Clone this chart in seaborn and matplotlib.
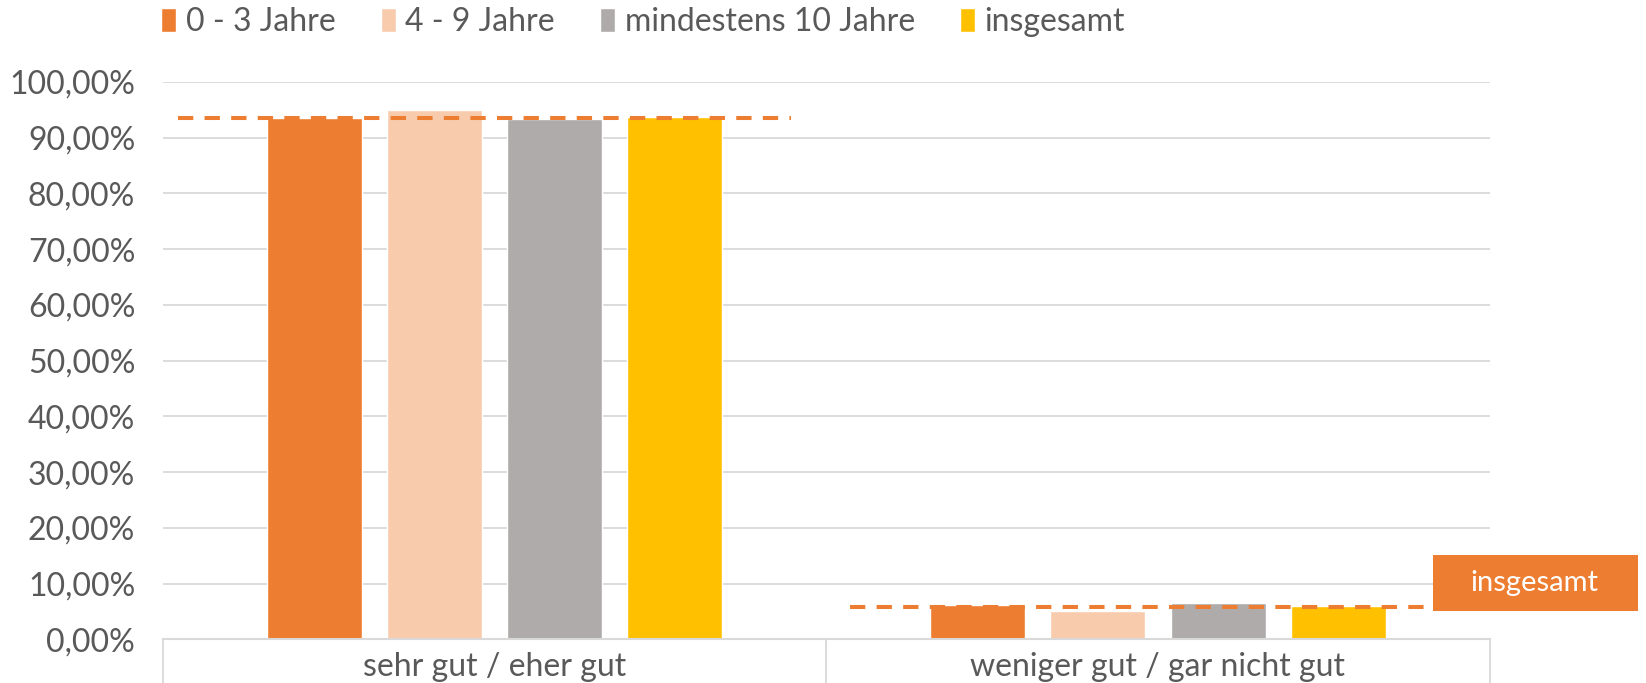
import numpy as np
import pandas as pd
import matplotlib
matplotlib.use("Agg")
import matplotlib.pyplot as plt
import seaborn as sns
from matplotlib.patches import Rectangle
from matplotlib.ticker import FuncFormatter

# Daten
kategorien = ["sehr gut / eher gut", "weniger gut / gar nicht gut"]
gruppen = ["0 - 3 Jahre", "4 - 9 Jahre", "mindestens 10 Jahre", "insgesamt"]
werte_0_3 = [93.6, 6.2]
werte_4_9 = [94.9, 5.0]
werte_10 = [93.3, 6.6]
werte_gesamt = [93.8, 6.0]
referenz_linie = [93.6, 5.8]

farben = ["#ED7D31", "#F8CBAD", "#AFABAB", "#FFC000"]
textfarbe = "#595959"
gitter = "#D9D9D9"

df = pd.DataFrame({
    "kategorie": kategorien * 4,
    "gruppe": np.repeat(gruppen, len(kategorien)),
    "wert": werte_0_3 + werte_4_9 + werte_10 + werte_gesamt,
})

sns.set_style("white")
plt.rcParams["font.family"] = ["Lato", "DejaVu Sans"]

fig = plt.figure(figsize=(16.46, 6.83), dpi=100)
ax = fig.add_axes([0.099, 0.064, 0.806, 0.816])

sns.barplot(data=df, x="kategorie", y="wert", hue="gruppe", order=kategorien,
            hue_order=gruppen, palette=farben, width=0.725, gap=0.21,
            saturation=1, ax=ax)

# gestrichelte Linien (insgesamt)
for i, v in enumerate(referenz_linie):
    x0 = i - 0.477 if i == 0 else i - 0.464
    x1 = i + 0.447 if i == 0 else i + 0.454
    ax.plot([x0, x1], [v, v], color="#ED7D31", lw=2.9,
            linestyle=(0, (3.8, 2.8)), zorder=5)

# Beschriftungsfeld rechts
ax.add_patch(Rectangle((1.414, 5.1), 0.309, 10.0, fc="#ED7D31", ec="none",
                       clip_on=False, zorder=6))
ax.text(1.568, 10.1, "insgesamt", color="white", fontsize=21,
        ha="center", va="center", clip_on=False, zorder=7)

ax.set_xlim(-0.5, 1.5)
ax.set_ylim(0, 100)
ax.set_yticks(np.arange(0, 101, 10))
ax.yaxis.set_major_formatter(FuncFormatter(lambda v, p: f"{v:.2f}".replace(".", ",") + "%"))
ax.yaxis.grid(True, color=gitter, lw=1.3)
ax.set_axisbelow(True)
for s in ["left", "top", "right"]:
    ax.spines[s].set_visible(False)
ax.spines["bottom"].set_color(gitter)
ax.spines["bottom"].set_linewidth(1.5)

ax.set_xticks([-0.5, 0.5, 1.5], minor=True)
ax.tick_params(axis="x", which="minor", bottom=True, length=32, color=gitter, width=1.3)
ax.tick_params(axis="x", which="major", length=0, pad=9, labelsize=23, labelcolor=textfarbe)
ax.tick_params(axis="y", length=0, pad=20, labelsize=23, labelcolor=textfarbe)
ax.set_xlabel("")
ax.set_ylabel("")

sns.move_legend(ax, "lower left", bbox_to_anchor=(-0.011, 1.058), ncol=4, frameon=False,
                title=None, fontsize=23, labelcolor=textfarbe, handlelength=0.48,
                handleheight=0.8, handletextpad=0.3, columnspacing=1.4, borderaxespad=0)

fig.savefig("out.png", dpi=100)
